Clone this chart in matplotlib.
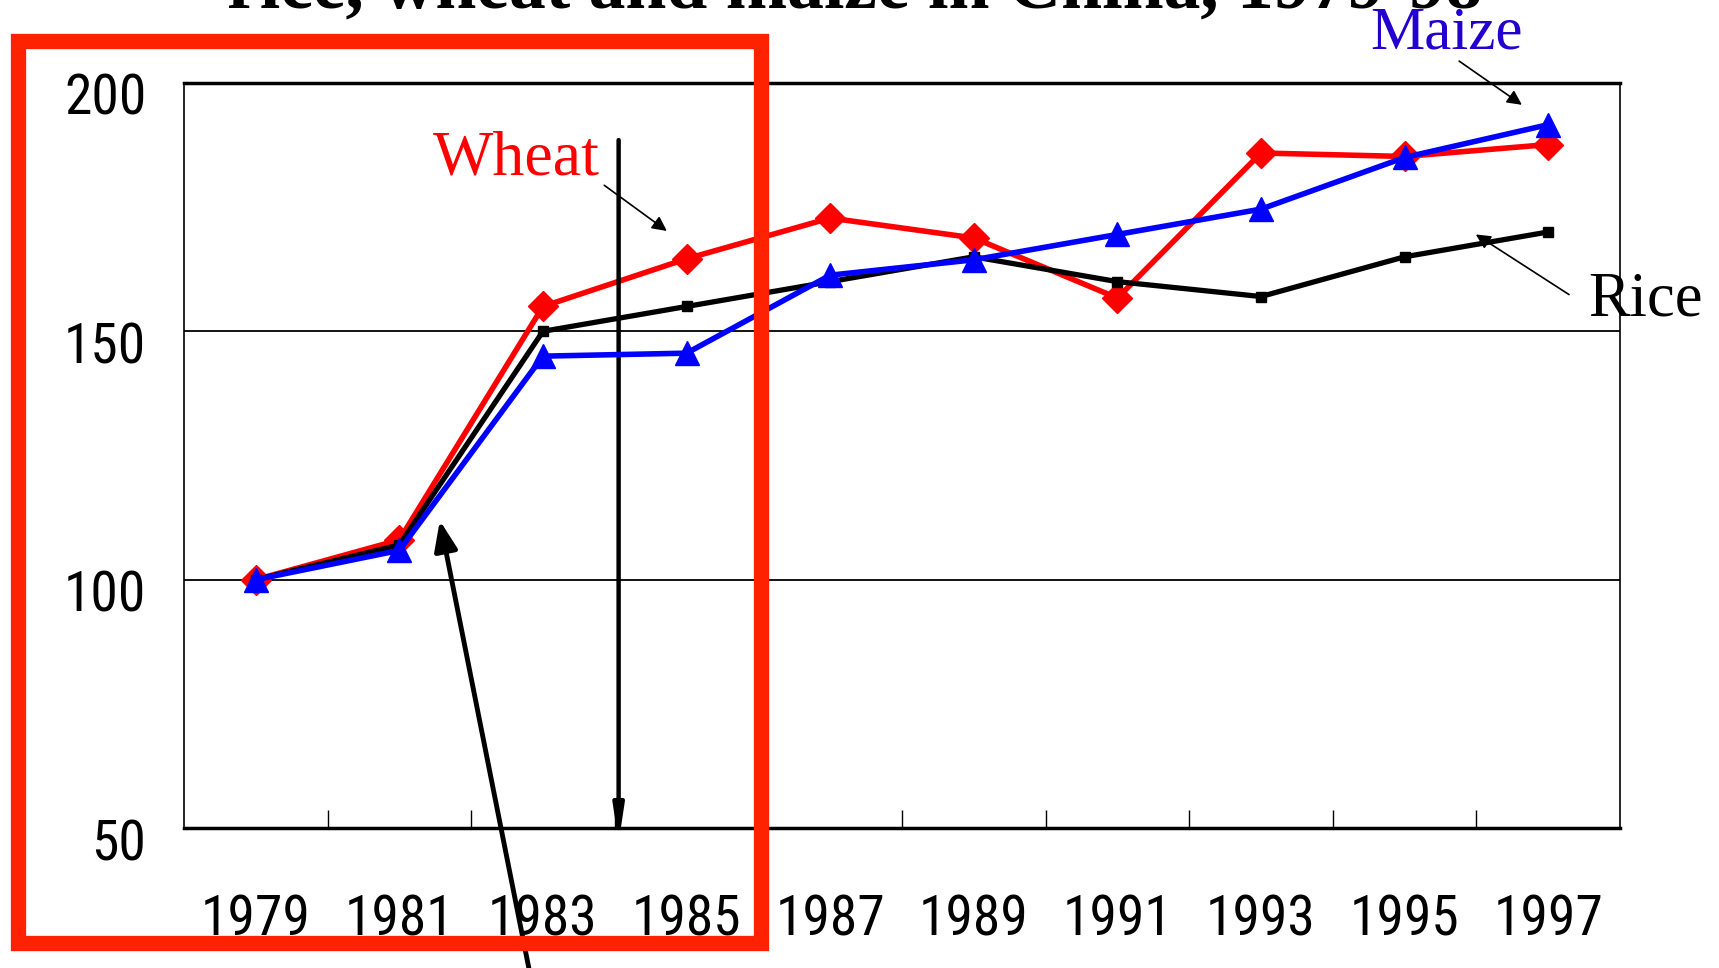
import matplotlib
matplotlib.use("Agg")
import matplotlib.pyplot as plt
import matplotlib.patches as patches
import matplotlib.transforms as mtransforms
import numpy as np

# data
years = ['1979', '1981', '1983', '1985', '1987', '1989', '1991', '1993', '1995', '1997']
rice = [100, 107, 150, 155, 160, 165, 160, 157, 165, 170]
wheat = [100, 108, 155, 164.6, 172.8, 168.8, 156.7, 185.9, 185.2, 187.6]
maize = [100, 105.9, 145, 145.6, 161.3, 164.4, 169.5, 174.6, 185, 191.6]

tick_font = ['Roboto Condensed', 'DejaVu Sans']
serif = ['Liberation Serif', 'DejaVu Serif']

fig = plt.figure(figsize=(17.19, 9.68), dpi=100)
ax = fig.add_axes([0.107, 0.1446, 0.8354, 0.7697])

x = np.arange(len(years))
ax.plot(x, wheat, color='#ff0000', lw=4, marker='D', ms=15, zorder=3)
ax.plot(x, rice, color='black', lw=3.8, marker='s', ms=7, zorder=4)
ax.plot(x, maize, color='#0000ff', lw=4, marker='^', ms=17, zorder=5)

ax.set_xlim(-0.5, 9.5)
ax.set_ylim(50, 200)
ax.set_yticks([50, 100, 150, 200])
ax.set_xticks(x)
ax.set_xticklabels(years)
ax.set_xticks(np.arange(0.5, 9, 1), minor=True)
ax.tick_params(axis='x', which='major', length=0, pad=47, labelsize=40)
ax.tick_params(axis='x', which='minor', direction='in', length=13, width=1)
ax.tick_params(axis='y', length=0, pad=27, labelsize=40)
for lab in ax.get_xticklabels() + ax.get_yticklabels():
    lab.set_family(tick_font)
shift = mtransforms.ScaledTranslation(0, -11 / 100, fig.dpi_scale_trans)
for lab in ax.get_yticklabels():
    lab.set_transform(lab.get_transform() + shift)
ax.grid(axis='y', color='black', lw=1.3)
ax.set_axisbelow(True)
for s in ['top', 'bottom']:
    ax.spines[s].set_linewidth(2.5)
for s in ['left', 'right']:
    ax.spines[s].set_linewidth(1.2)

# labels and arrows
small = dict(arrowstyle='-|>', color='black', lw=1.2, mutation_scale=22,
             shrinkA=0, shrinkB=0)
ax.text(1.817, 184.5, 'Wheat', color='#ff0000', fontsize=46, family=serif,
        ha='center', va='center')
ax.annotate('', xy=(2.863, 170.2), xytext=(2.427, 179.4), arrowprops=small)
ax.text(8.29, 210.0, 'Maize', color='#2200d0', fontsize=44, family=serif,
        ha='center', va='center', clip_on=False)
ax.annotate('', xy=(8.817, 195.6), xytext=(8.38, 204.4), arrowprops=small)
ax.text(9.68, 156.3, 'Rice', color='black', fontsize=45, family=serif,
        ha='center', va='center', clip_on=False)
ax.annotate('', xy=(8.496, 169.5), xytext=(9.145, 157.4), arrowprops=small)

# big arrows
ax.annotate('', xy=(2.527, 47.0), xytext=(2.527, 188.5),
            arrowprops=dict(arrowstyle='-|>,head_width=0.15,head_length=1.0',
                            color='black', lw=3.2, mutation_scale=20,
                            shrinkA=0, shrinkB=0),
            annotation_clip=False)
ax.annotate('', xy=(1.282, 111.9), xytext=(1.93, 17.7),
            arrowprops=dict(arrowstyle='-|>,head_width=0.35,head_length=0.9',
                            color='black', lw=3.5, mutation_scale=20,
                            shrinkA=0, shrinkB=0),
            annotation_clip=False)

# red box
fig.patches.append(patches.Rectangle((18 / 1719, 1 - 943 / 968), 743 / 1719, 902 / 968,
                                     transform=fig.transFigure, fill=False,
                                     edgecolor='#ff2200', lw=11, zorder=10))

# title (cut off at top edge, as in the source slide)
fig.text(0.497, 1 - 8 / 968, 'rice, wheat and maize in China, 1979-98', ha='center',
         va='baseline', fontsize=53, fontweight='bold', family=serif)

fig.savefig('out.png', dpi=100)
